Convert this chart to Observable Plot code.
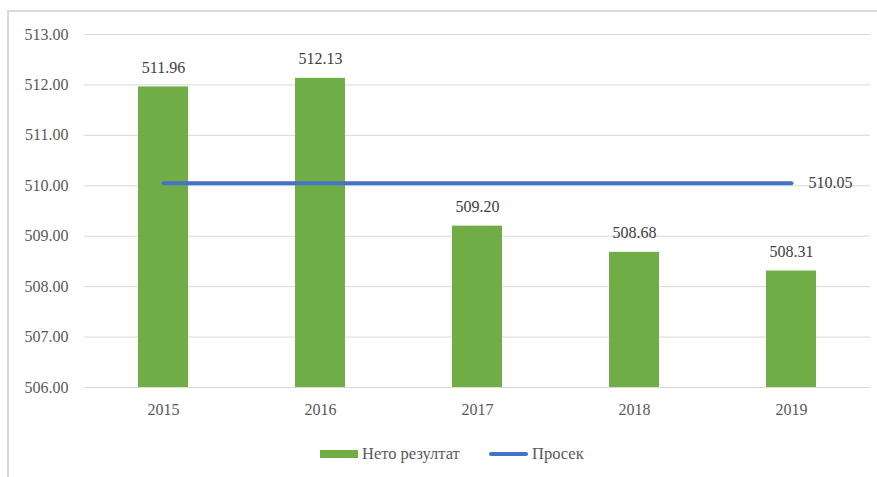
<!DOCTYPE html>
<html>
<head>
<meta charset="utf-8">
<script src="https://cdn.jsdelivr.net/npm/d3@7"></script>
<script src="https://cdn.jsdelivr.net/npm/@observablehq/plot@0.6"></script>
<style>
  html, body { margin: 0; padding: 0; background: #fff; }
  body { width: 877px; height: 477px; position: relative; overflow: hidden; font-family: "Times New Roman", "Liberation Serif", Tinos, "DejaVu Serif", serif; }
  #frame { position: absolute; left: 7px; top: 10px; width: 870px; height: 467px; border-left: 2px solid #d9d9d9; border-top: 2px solid #d9d9d9; box-sizing: border-box; }
  #chart { position: absolute; left: 0; top: 0; }
  #chart svg, #chart svg text { font-family: "Times New Roman", "Liberation Serif", Tinos, "DejaVu Serif", serif !important; }
  #legend { position: absolute; left: 0; top: 443px; width: 877px; height: 22px; font-size: 16.5px; color: #595959; }
  .sw-bar { position: absolute; left: 320px; top: 7px; width: 38px; height: 8px; background: #70AD47; }
  .lab1 { position: absolute; left: 362px; top: 1px; line-height: 20px; }
  .sw-line { position: absolute; left: 489px; top: 9px; width: 39px; height: 4px; border-radius: 2px; background: #4472C4; }
  .lab2 { position: absolute; left: 532px; top: 1px; line-height: 20px; }
</style>
</head>
<body>
<div id="frame"></div>
<div id="chart"></div>
<div id="legend">
  <div class="sw-bar"></div><span class="lab1">Нето резултат</span>
  <div class="sw-line"></div><span class="lab2">Просек</span>
</div>
<script>
const years = ["2015", "2016", "2017", "2018", "2019"];
const netResult = [511.96, 512.13, 509.20, 508.68, 508.31];
const average = 510.05;
const yTicks = [506, 507, 508, 509, 510, 511, 512, 513];
const yMin = 506, yMax = 513;

const bars = years.map((y, i) => ({year: y, value: netResult[i]}));
const avgLine = years.map(y => ({year: y, value: average}));
const lastYear = years[years.length - 1];

const chart = Plot.plot({
  width: 877,
  height: 430,
  marginLeft: 84,
  marginRight: 7,
  marginTop: 34,
  marginBottom: 43,
  style: {fontSize: "16px", color: "#595959", background: "transparent"},
  x: {domain: years, paddingInner: 0.68, paddingOuter: 0.34, label: null, tickSize: 0, tickPadding: 16},
  y: {domain: [yMin, yMax], ticks: yTicks, tickFormat: d => d.toFixed(2), label: null, tickSize: 0, tickPadding: 16},
  marks: [
    Plot.gridY(yTicks, {stroke: "#d9d9d9", strokeOpacity: 1, strokeWidth: 1}),
    Plot.barY(bars, {x: "year", y1: yMin, y2: "value", fill: "#70AD47"}),
    Plot.lineY(avgLine, {x: "year", y: "value", stroke: "#4472C4", strokeWidth: 4, strokeLinecap: "round"}),
    Plot.text(bars, {x: "year", y: "value", text: d => d.value.toFixed(2), dy: -19, fill: "#404040", fontSize: 16}),
    Plot.text([{year: lastYear, value: average}], {x: "year", y: "value", text: d => d.value.toFixed(2), dx: 17, textAnchor: "start", fill: "#404040", fontSize: 16})
  ]
});
document.getElementById("chart").appendChild(chart);
</script>
</body>
</html>
